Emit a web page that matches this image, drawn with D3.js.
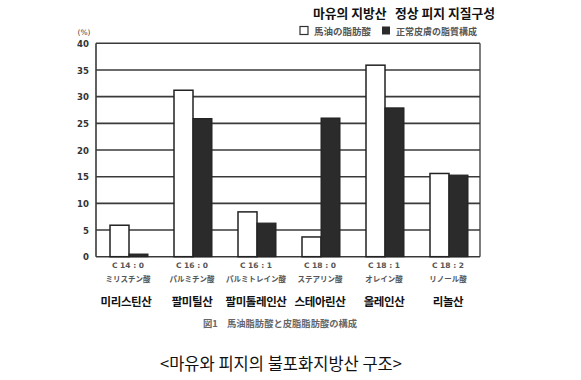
<!DOCTYPE html>
<html><head><meta charset="utf-8">
<script src="https://cdn.jsdelivr.net/npm/d3@7"></script>
<style>body{margin:0;background:#fff}svg{display:block}</style>
</head><body><svg id="c" width="581" height="380"></svg>
<script>
const codes = ["C 14 : 0","C 16 : 0","C 16 : 1","C 18 : 0","C 18 : 1","C 18 : 2"];
const jpNames = ["ミリスチン酸","パルミチン酸","パルミトレイン酸","ステアリン酸","オレイン酸","リノール酸"];
const krNames = ["미리스틴산","팔미틸산","팔미톨레인산","스테아린산","올레인산","리놀산"];
const horseOil = [5.9, 31.2, 8.4, 3.7, 35.9, 15.6];
const skinLipid = [0.5, 25.9, 6.3, 26.0, 27.9, 15.3];
const yTicks = [0,5,10,15,20,25,30,35,40];
const seriesNames = ["馬油の脂肪酸","正常皮膚の脂質構成"];

const svg = d3.select("#c");
const L=96,R=480,T=43.3,B=256.7;
const x = d3.scaleBand().domain(codes).range([L,R]);
const y = d3.scaleLinear().domain([0,40]).range([B,T]);
const kr = "'Noto Sans CJK KR', sans-serif";
const jp = "'Noto Sans CJK JP', sans-serif";
const lineC = "#3a3a3a";

// gridlines
svg.append("g").selectAll("line").data(yTicks).join("line")
  .attr("x1",L).attr("x2",R).attr("y1",d=>y(d)).attr("y2",d=>y(d))
  .attr("stroke",lineC).attr("stroke-width",1.6);
// frame
svg.append("line").attr("x1",L).attr("x2",L).attr("y1",T).attr("y2",B).attr("stroke",lineC).attr("stroke-width",1.6);
svg.append("line").attr("x1",R).attr("x2",R).attr("y1",T).attr("y2",B).attr("stroke",lineC).attr("stroke-width",1.3);

// y axis labels
const yAxis = d3.axisLeft(y).tickValues(yTicks).tickSize(0).tickPadding(7);
const gy = svg.append("g").attr("transform",`translate(${L},0)`).call(yAxis);
gy.select(".domain").remove();
gy.selectAll("text").attr("font-family","'DejaVu Sans Condensed','DejaVu Sans',sans-serif").attr("font-weight","bold").attr("font-size",9.5).attr("fill","#333");
svg.append("text").attr("x",84).attr("y",35).attr("text-anchor","middle")
  .attr("font-family","'DejaVu Sans',sans-serif").attr("font-size",7.5).attr("fill","#444").text("(%)");

const bw = 19;
const g = svg.append("g");
g.selectAll("rect.w").data(horseOil).join("rect").attr("class","w")
  .attr("x",(d,i)=>x(codes[i])+14).attr("width",bw)
  .attr("y",d=>y(d)).attr("height",d=>B-y(d))
  .attr("fill","#fff").attr("stroke","#222").attr("stroke-width",1.5);
g.selectAll("rect.b").data(skinLipid).join("rect").attr("class","b")
  .attr("x",(d,i)=>x(codes[i])+14+bw).attr("width",bw)
  .attr("y",d=>y(d)).attr("height",d=>B-y(d))
  .attr("fill","#2b2b2b").attr("stroke","#222").attr("stroke-width",1);

// category labels
const bc = d=>x(d)+x.bandwidth()/2;
svg.append("g").selectAll("text").data(codes).join("text")
  .attr("x",d=>bc(d)).attr("y",268).attr("text-anchor","middle")
  .attr("font-family","'DejaVu Sans',sans-serif").attr("font-weight","bold").attr("font-size",7.5).attr("fill","#555").text(d=>d);
svg.append("g").selectAll("text").data(jpNames).join("text")
  .attr("x",(d,i)=>bc(codes[i])).attr("y",282).attr("text-anchor","middle")
  .attr("font-family",jp).attr("font-weight","bold").attr("font-size",7.5).attr("fill","#555").text(d=>d);
svg.append("g").selectAll("text").data(krNames).join("text")
  .attr("x",(d,i)=>bc(codes[i])-(i===0?2:0)).attr("y",305.5).attr("text-anchor","middle")
  .attr("font-family",kr).attr("font-weight","bold").attr("font-size",11.5).attr("letter-spacing",-0.4).attr("fill","#111").text(d=>d);

// caption
svg.append("text").attr("x",280).attr("y",326.5).attr("text-anchor","middle")
  .attr("font-family",jp).attr("font-weight","bold").attr("font-size",9.3).attr("fill","#666")
  .text("図1　馬油脂肪酸と皮脂脂肪酸の構成");

// legend
svg.append("rect").attr("x",300).attr("y",26.5).attr("width",8).attr("height",8).attr("fill","#fff").attr("stroke","#333").attr("stroke-width",1.2);
svg.append("text").attr("x",314).attr("y",34.5).attr("font-family",jp).attr("font-weight","bold").attr("font-size",9.5).attr("fill","#555").text(seriesNames[0]);
svg.append("rect").attr("x",382).attr("y",26.5).attr("width",8).attr("height",8).attr("fill","#2b2b2b");
svg.append("text").attr("x",396).attr("y",34.5).attr("font-family",jp).attr("font-weight","bold").attr("font-size",9).attr("fill","#555").text(seriesNames[1]);

// Korean header
svg.append("text").attr("x",313).attr("y",18).attr("font-family",kr).attr("font-weight","bold").attr("font-size",12.8).attr("fill","#111").text("마유의 지방산");
svg.append("text").attr("x",395).attr("y",18).attr("font-family",kr).attr("font-weight","bold").attr("font-size",12.8).attr("fill","#111").text("정상 피지 지질구성");

// bottom title
svg.append("text").attr("x",281).attr("y",370).attr("text-anchor","middle")
  .attr("font-family",kr).attr("font-size",16.5).attr("fill","#111").text("<마유와 피지의 불포화지방산 구조>");
</script></body></html>
